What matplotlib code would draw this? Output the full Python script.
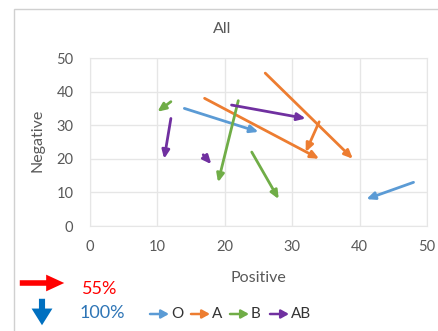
import matplotlib.pyplot as plt
from matplotlib.patches import FancyArrowPatch, Rectangle

plt.rcParams['font.family'] = ['Lato', 'DejaVu Sans']

# arrows: (positive, negative) start -> end, per blood group
o_from = [(14, 35), (48, 13)]
o_to = [(25, 28), (41, 8)]
a_from = [(26, 45.5), (17, 38), (34, 31)]
a_to = [(39, 20), (34, 20), (32, 22)]
b_from = [(12, 37), (22, 37.3), (24, 22)]
b_to = [(10, 34), (19, 13), (28, 8)]
ab_from = [(21, 36), (12, 32), (16.8, 21.2)]
ab_to = [(32, 32), (11, 20), (18, 18.4)]

groups = ['O', 'A', 'B', 'AB']
colors = ['#5B9BD5', '#ED7D31', '#70AD47', '#7030A0']
ticks = [0, 10, 20, 30, 40, 50]
pct_right = '55%'
pct_down = '100%'

W, H = 438, 331
fig = plt.figure(figsize=(W / 100, H / 100), dpi=100)
ax = fig.add_axes([90 / W, 1 - 226 / H, 337 / W, 168 / H])

# chart border
fig.add_artist(Rectangle((14 / W, -0.1), 1.2, 1 - 9 / H + 0.1, transform=fig.transFigure,
                         fill=False, ec='#D0D0D0', lw=1))

data = [(o_from, o_to), (a_from, a_to), (b_from, b_to), (ab_from, ab_to)]
for (starts, ends), c in zip(data, colors):
    for s, e in zip(starts, ends):
        ax.annotate('', xy=e, xytext=s,
                    arrowprops=dict(arrowstyle='-|>,head_length=0.45,head_width=0.2',
                                    color=c, lw=2, shrinkA=0, shrinkB=0, mutation_scale=11))

ax.set_xlim(0, 50)
ax.set_ylim(0, 50)
ax.set_xticks(ticks)
ax.set_yticks(ticks)
ax.grid(True, color='#E6E6E6', lw=1)
ax.set_axisbelow(True)
for sp in ax.spines.values():
    sp.set_color('#E6E6E6')
ax.tick_params(length=0, colors='#595959', labelsize=10.5)
ax.tick_params(axis='y', pad=12)
ax.tick_params(axis='x', pad=10)

ax.set_xlabel('Positive', color='#595959', fontsize=11.5)
ax.set_ylabel('Negative', color='#595959', fontsize=11.5)
ax.xaxis.set_label_coords(0.5, -0.27)
ax.yaxis.set_label_coords(-0.135, 0.51)

fig.text(222 / W, 1 - 29 / H, 'All', ha='center', va='center', color='#595959', fontsize=11.5)

# direction markers
def px(x, y):
    return (x / W, 1 - y / H)

fig.add_artist(FancyArrowPatch(px(17, 283), px(67, 283), transform=fig.transFigure,
                               arrowstyle='simple,head_length=0.65,head_width=0.6,tail_width=0.2',
                               mutation_scale=20, color='#FF0000', lw=0))
fig.text(100 / W, 1 - 289 / H, pct_right, ha='center', va='center', color='#FF0000', fontsize=13)

fig.add_artist(FancyArrowPatch(px(42, 296), px(42, 328), transform=fig.transFigure,
                               arrowstyle='simple,head_length=0.6,head_width=0.75,tail_width=0.22',
                               mutation_scale=20, color='#0070C0', lw=0))
fig.text(102 / W, 1 - 313 / H, pct_down, ha='center', va='center', color='#2E75B6', fontsize=13)

# legend
leg_x = [150, 191, 230, 270]
for x, g, c in zip(leg_x, groups, colors):
    fig.add_artist(FancyArrowPatch(px(x, 314), px(x + 19, 314), transform=fig.transFigure,
                                   arrowstyle='-|>,head_length=0.45,head_width=0.25',
                                   mutation_scale=10, color=c, lw=1.8,
                                   shrinkA=0, shrinkB=0))
    fig.text((x + 21) / W, 1 - 314 / H, g, ha='left', va='center', color='#333333', fontsize=11)

fig.savefig('out.png', dpi=100)
